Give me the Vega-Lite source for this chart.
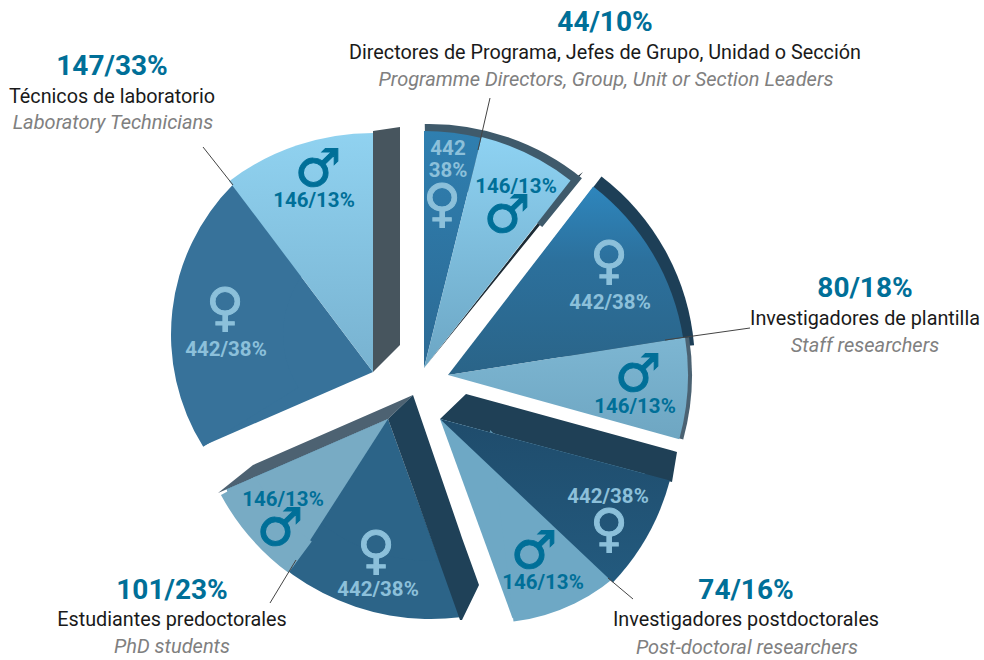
{
"$schema":"https://vega.github.io/schema/vega-lite/v6.json",
"width":984,"height":660,"padding":0,
"autosize":{"type":"fit","contains":"padding"},
"background":"white",
"config":{"view":{"stroke":null}},
"resolve":{"scale":{"color":"independent"}},
"datasets":{
"slices":[
{"group":"Directors","part":"depthD","cx":429,"cy":367,"a0":-1,"a1":39,"r":243,"r0":180},
{"group":"Staff","part":"depthS","cx":456,"cy":366,"a0":37.5,"a1":85,"r":239,"r0":0},
{"group":"Staff","part":"depthT","cx":451,"cy":375,"a0":81,"a1":105.5,"r":241,"r0":0},
{"group":"Postdoc","part":"maleP","cx":440,"cy":419,"a0":105,"a1":160,"r":212,"r0":0},
{"group":"Postdoc","part":"maleP","cx":490,"cy":430,"a0":135,"a1":173,"r":193,"r0":0},
{"group":"PhD","part":"femH","cx":388,"cy":419,"a0":160,"a1":246.5,"r":176,"r0":0},
{"group":"PhD","part":"femH","cx":431,"cy":381,"a0":173,"a1":241,"r":238,"r0":180},
{"group":"PhD","part":"maleH","cx":388,"cy":419,"a0":212.7,"a1":246.5,"r":176,"r0":0},
{"group":"PhD","part":"maleH","cx":431,"cy":381,"a0":216.6,"a1":241.5,"r":239,"r0":200},
{"group":"Technicians","part":"femT","cx":373,"cy":372,"a0":246.5,"a1":323,"r":185,"r0":0},
{"group":"Technicians","part":"femT","cx":383,"cy":334.5,"a0":238,"a1":315,"r":212,"r0":100},
{"group":"Technicians","part":"maleT","cx":373,"cy":372,"a0":323,"a1":360,"r":239,"r0":0},
{"group":"Postdoc","part":"femP","cx":440,"cy":419,"a0":105,"a1":133.4,"r":238,"r0":0},
{"group":"Directors","part":"femD","cx":424,"cy":368,"a0":0,"a1":14,"r":237,"r0":0},
{"group":"Directors","part":"maleD","cx":424,"cy":368,"a0":14,"a1":38,"r":238,"r0":0},
{"group":"Staff","part":"femS","cx":448,"cy":375,"a0":37.6,"a1":81,"r":238,"r0":0},
{"group":"Staff","part":"maleS","cx":448,"cy":375,"a0":81,"a1":105.5,"r":240,"r0":0}
],
"sides":[
{"side":"postdocTop","x":440,"y":419,"y2":419},
{"side":"postdocTop","x":466,"y":394,"y2":426},
{"side":"postdocTop","x":672,"y":450.6,"y2":482},
{"side":"postdocTop","x":677,"y":452,"y2":452},
{"side":"phdLeft","x":218,"y":493,"y2":493},
{"side":"phdLeft","x":253,"y":465,"y2":478},
{"side":"phdLeft","x":388,"y":406,"y2":419},
{"side":"phdLeft","x":413,"y":395,"y2":395},
{"side":"techRight","x":373,"y":131,"y2":372},
{"side":"techRight","x":400,"y":127,"y2":345},
{"side":"directorsRight","x":424,"y":368,"y2":368},
{"side":"directorsRight","x":570,"y":182,"y2":188},
{"side":"directorsRight","x":583,"y":172,"y2":172},
{"side":"phdRight","x":388,"y":419,"y2":419},
{"side":"phdRight","x":413,"y":395,"y2":488},
{"side":"phdRight","x":460,"y":532,"y2":620},
{"side":"phdRight","x":462,"y":538,"y2":620},
{"side":"phdRight","x":479,"y":585,"y2":585}
],
"leaders":[
{"group":"Directors","x":490,"y":98,"x2":478,"y2":150},
{"group":"Technicians","x":203,"y":147,"x2":233,"y2":185},
{"group":"Staff","x":750,"y":328,"x2":665,"y2":340},
{"group":"Postdoc","x":633,"y":599,"x2":608,"y2":578},
{"group":"PhD","x":270,"y":603,"x2":296,"y2":560}
],
"labels":[
{"kind":"total","text":"44/10%","x":605,"y":23},
{"kind":"es","text":"Directores de Programa, Jefes de Grupo, Unidad o Sección","x":605,"y":53},
{"kind":"en","text":"Programme Directors, Group, Unit or Section Leaders","x":606,"y":80},
{"kind":"total","text":"147/33%","x":112,"y":67},
{"kind":"es","text":"Técnicos de laboratorio","x":112,"y":97},
{"kind":"en","text":"Laboratory Technicians","x":113,"y":123},
{"kind":"total","text":"80/18%","x":865,"y":289},
{"kind":"es","text":"Investigadores de plantilla","x":865,"y":319},
{"kind":"en","text":"Staff researchers","x":865,"y":346},
{"kind":"total","text":"74/16%","x":746,"y":591},
{"kind":"es","text":"Investigadores postdoctorales","x":746,"y":620},
{"kind":"en","text":"Post-doctoral researchers","x":747,"y":648},
{"kind":"total","text":"101/23%","x":172,"y":591},
{"kind":"es","text":"Estudiantes predoctorales","x":172,"y":620},
{"kind":"en","text":"PhD students","x":172,"y":647},
{"kind":"male","text":"146/13%","x":516,"y":187},
{"kind":"male","text":"146/13%","x":314,"y":201},
{"kind":"male","text":"146/13%","x":635,"y":407},
{"kind":"male","text":"146/13%","x":543,"y":583},
{"kind":"male","text":"146/13%","x":283,"y":500},
{"kind":"female","text":"442","x":448,"y":149},
{"kind":"female","text":"38%","x":448,"y":171},
{"kind":"female","text":"442/38%","x":226,"y":350},
{"kind":"female","text":"442/38%","x":610,"y":303},
{"kind":"female","text":"442/38%","x":608,"y":497},
{"kind":"female","text":"442/38%","x":378,"y":590},
{"kind":"symM","text":"♂","x":507,"y":216},
{"kind":"symM","text":"♂","x":318,"y":170},
{"kind":"symM","text":"♂","x":638,"y":375},
{"kind":"symM","text":"♂","x":534,"y":552},
{"kind":"symM","text":"♂","x":280,"y":529},
{"kind":"symF","text":"♀","x":442,"y":205},
{"kind":"symF","text":"♀","x":225,"y":309},
{"kind":"symF","text":"♀","x":609,"y":262},
{"kind":"symF","text":"♀","x":609,"y":530},
{"kind":"symF","text":"♀","x":376,"y":552}
]
},
"encoding":{
"x":{"field":"x","type":"quantitative","scale":{"domain":[0,984],"nice":false,"zero":false},"axis":null},
"y":{"field":"y","type":"quantitative","scale":{"domain":[660,0],"nice":false,"zero":false},"axis":null}
},
"layer":[
{"data":{"name":"sides"},"transform":[{"filter":"datum.side=='postdocTop'"}],"mark":{"type":"area","interpolate":"linear","fill":"#1f4056"},"encoding":{"y2":{"field":"y2"}}},
{"data":{"name":"sides"},"transform":[{"filter":"datum.side=='phdLeft'"}],"mark":{"type":"area","interpolate":"linear","fill":"#4d6272"},"encoding":{"y2":{"field":"y2"}}},
{"data":{"name":"sides"},"transform":[{"filter":"datum.side=='techRight'"}],"mark":{"type":"area","interpolate":"linear","fill":"#47555e"},"encoding":{"y2":{"field":"y2"}}},
{"data":{"name":"sides"},"transform":[{"filter":"datum.side=='directorsRight'"}],"mark":{"type":"area","interpolate":"linear","fill":"#1c2b35"},"encoding":{"y2":{"field":"y2"}}},
{"data":{"name":"slices"},"transform":[{"filter":"indexof(['femP','maleT','femD','maleD','femS','maleS'],datum.part)<0"}],
"mark":{"type":"arc","stroke":null},
"encoding":{
"x":{"field":"cx","type":"quantitative"},"y":{"field":"cy","type":"quantitative"},
"theta":{"field":"a0","type":"quantitative","scale":{"domain":[0,360],"range":[0,6.283185]}},
"theta2":{"field":"a1"},
"radius":{"field":"r","type":"quantitative","scale":{"type":"linear","domain":[0,300],"range":[0,300],"zero":true}},
"radius2":{"field":"r0"},
"color":{"field":"part","type":"nominal","legend":null,"scale":{
"domain":["depthD","depthS","depthT","maleP","femH","maleH","femT"],
"range":["#3f5a6b","#1d3f57","#4b6272","#6ea8c5","#2c6488","#78abc4","#37729a"]}}
}},
{"data":{"name":"slices"},"transform":[{"filter":"datum.part=='maleT'"}],
"mark":{"type":"arc","stroke":null,"fill":{"gradient":"linear","x1":0,"y1":0,"x2":0,"y2":1,"stops":[{"offset":0,"color":"#90d2f0"},{"offset":1,"color":"#78b2d0"}]}},
"encoding":{"x":{"field":"cx","type":"quantitative"},"y":{"field":"cy","type":"quantitative"},"theta":{"field":"a0","type":"quantitative","scale":{"domain":[0,360],"range":[0,6.283185]}},"theta2":{"field":"a1"},"radius":{"field":"r","type":"quantitative","scale":{"type":"linear","domain":[0,300],"range":[0,300],"zero":true}},"radius2":{"field":"r0"}}},
{"data":{"name":"slices"},"transform":[{"filter":"datum.part=='femP'"}],
"mark":{"type":"arc","stroke":null,"fill":{"gradient":"linear","x1":0,"y1":0,"x2":0,"y2":1,"stops":[{"offset":0,"color":"#1f4c6c"},{"offset":1,"color":"#235a7e"}]}},
"encoding":{"x":{"field":"cx","type":"quantitative"},"y":{"field":"cy","type":"quantitative"},"theta":{"field":"a0","type":"quantitative","scale":{"domain":[0,360],"range":[0,6.283185]}},"theta2":{"field":"a1"},"radius":{"field":"r","type":"quantitative","scale":{"type":"linear","domain":[0,300],"range":[0,300],"zero":true}},"radius2":{"field":"r0"}}},
{"data":{"name":"slices"},"transform":[{"filter":"datum.part=='femD'"}],
"mark":{"type":"arc","stroke":null,"fill":{"gradient":"linear","x1":0,"y1":0,"x2":0,"y2":1,"stops":[{"offset":0,"color":"#2f7fb0"},{"offset":1,"color":"#2c6a94"}]}},
"encoding":{"x":{"field":"cx","type":"quantitative"},"y":{"field":"cy","type":"quantitative"},"theta":{"field":"a0","type":"quantitative","scale":{"domain":[0,360],"range":[0,6.283185]}},"theta2":{"field":"a1"},"radius":{"field":"r","type":"quantitative","scale":{"type":"linear","domain":[0,300],"range":[0,300],"zero":true}},"radius2":{"field":"r0"}}},
{"data":{"name":"slices"},"transform":[{"filter":"datum.part=='maleD'"}],
"mark":{"type":"arc","stroke":null,"fill":{"gradient":"linear","x1":0,"y1":0,"x2":0,"y2":1,"stops":[{"offset":0,"color":"#8ed2f2"},{"offset":1,"color":"#6ca6c4"}]}},
"encoding":{"x":{"field":"cx","type":"quantitative"},"y":{"field":"cy","type":"quantitative"},"theta":{"field":"a0","type":"quantitative","scale":{"domain":[0,360],"range":[0,6.283185]}},"theta2":{"field":"a1"},"radius":{"field":"r","type":"quantitative","scale":{"type":"linear","domain":[0,300],"range":[0,300],"zero":true}},"radius2":{"field":"r0"}}},
{"data":{"name":"slices"},"transform":[{"filter":"datum.part=='femS'"}],
"mark":{"type":"arc","stroke":null,"fill":{"gradient":"linear","x1":0,"y1":0,"x2":0,"y2":1,"stops":[{"offset":0,"color":"#2e86bd"},{"offset":0.4,"color":"#2c709c"},{"offset":1,"color":"#2a6488"}]}},
"encoding":{"x":{"field":"cx","type":"quantitative"},"y":{"field":"cy","type":"quantitative"},"theta":{"field":"a0","type":"quantitative","scale":{"domain":[0,360],"range":[0,6.283185]}},"theta2":{"field":"a1"},"radius":{"field":"r","type":"quantitative","scale":{"type":"linear","domain":[0,300],"range":[0,300],"zero":true}},"radius2":{"field":"r0"}}},
{"data":{"name":"slices"},"transform":[{"filter":"datum.part=='maleS'"}],
"mark":{"type":"arc","stroke":null,"fill":{"gradient":"linear","x1":0,"y1":0,"x2":0,"y2":1,"stops":[{"offset":0,"color":"#7db6d2"},{"offset":1,"color":"#6ea6c2"}]}},
"encoding":{"x":{"field":"cx","type":"quantitative"},"y":{"field":"cy","type":"quantitative"},"theta":{"field":"a0","type":"quantitative","scale":{"domain":[0,360],"range":[0,6.283185]}},"theta2":{"field":"a1"},"radius":{"field":"r","type":"quantitative","scale":{"type":"linear","domain":[0,300],"range":[0,300],"zero":true}},"radius2":{"field":"r0"}}},
{"data":{"name":"sides"},"transform":[{"filter":"datum.side=='phdRight'"}],"mark":{"type":"area","interpolate":"linear","fill":"#1f4158"},"encoding":{"y2":{"field":"y2"}}},
{"data":{"name":"leaders"},"mark":{"type":"rule","stroke":"#444444","strokeWidth":1},"encoding":{"x2":{"field":"x2"},"y2":{"field":"y2"}}},
{"data":{"name":"labels"},"transform":[{"filter":"datum.kind=='total'"}],"mark":{"type":"text","font":"Roboto","fontWeight":"bold","fontSize":28,"fill":"#006f98","align":"center","baseline":"middle"},"encoding":{"text":{"field":"text"}}},
{"data":{"name":"labels"},"transform":[{"filter":"datum.kind=='es'"}],"mark":{"type":"text","font":"Roboto","fontSize":19.8,"fill":"#1a1a1a","align":"center","baseline":"middle"},"encoding":{"text":{"field":"text"}}},
{"data":{"name":"labels"},"transform":[{"filter":"datum.kind=='en'"}],"mark":{"type":"text","font":"Roboto","fontStyle":"italic","fontSize":20,"fill":"#808080","align":"center","baseline":"middle"},"encoding":{"text":{"field":"text"}}},
{"data":{"name":"labels"},"transform":[{"filter":"datum.kind=='male'"}],"mark":{"type":"text","font":"Roboto","fontWeight":"bold","fontSize":20.5,"fill":"#006f98","align":"center","baseline":"middle"},"encoding":{"text":{"field":"text"}}},
{"data":{"name":"labels"},"transform":[{"filter":"datum.kind=='female'"}],"mark":{"type":"text","font":"Roboto","fontWeight":"bold","fontSize":20.5,"fill":"#8cc0da","align":"center","baseline":"middle"},"encoding":{"text":{"field":"text"}}},
{"data":{"name":"labels"},"transform":[{"filter":"datum.kind=='symM'"}],"mark":{"type":"text","font":"DejaVu Sans","fontWeight":"bold","fontSize":52,"fill":"#006f98","stroke":"#006f98","strokeWidth":1,"align":"center","baseline":"middle"},"encoding":{"text":{"field":"text"}}},
{"data":{"name":"labels"},"transform":[{"filter":"datum.kind=='symF'"}],"mark":{"type":"text","font":"DejaVu Sans","fontWeight":"bold","fontSize":52,"fill":"#8cc0da","stroke":"#8cc0da","strokeWidth":1,"align":"center","baseline":"middle"},"encoding":{"text":{"field":"text"}}}
]
}
